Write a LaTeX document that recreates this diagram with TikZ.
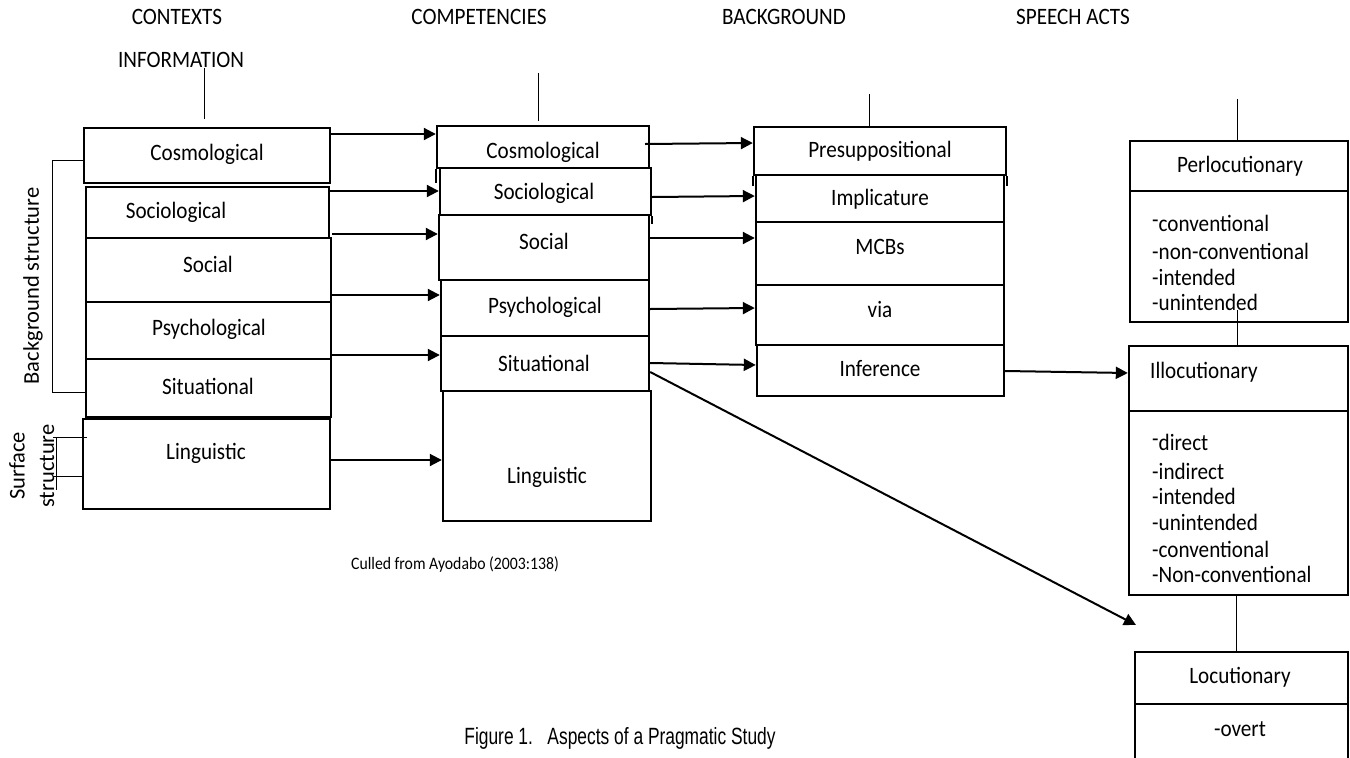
\documentclass[tikz,border=0pt]{standalone}
\usepackage{fontspec}
\setmainfont{Carlito}[FakeStretch=0.9]
\newfontfamily\rotfont{Carlito}
\newfontfamily\capfont{Liberation Sans}[FakeStretch=0.74]
\usetikzlibrary{arrows.meta,fit}
\tikzset{
  box/.style={draw, line width=2.4pt, inner sep=0pt},
  lbl/.style={font=\fontsize{23.5}{26}\selectfont, inner sep=0pt},
  item/.style={lbl, anchor=base west},
  rotlbl/.style={font=\rotfont\fontsize{22.5}{26}\selectfont, inner sep=0pt, rotate=90},
  arr/.style={line width=2pt, -{Triangle[length=12pt,width=12pt]}},
  thinline/.style={line width=1pt},
}
\newcommand\rdash{\raisebox{3.5pt}{-}}
\begin{document}
\begin{tikzpicture}[x=1pt,y=-1pt]
\useasboundingbox (0,0) rectangle (1350,758);
\clip (0,0) rectangle (1350,758);
\fill[white] (0,0) rectangle (1350,758);

% headers
\node[lbl] (hcon) at (177,17) {CONTEXTS};
\node[lbl] (hinf) at (181,60) {INFORMATION};
\node[lbl] (hcomp) at (479,17) {COMPETENCIES};
\node[lbl] (hback) at (784,17) {BACKGROUND};
\node[lbl] (hspe) at (1073,17) {SPEECH ACTS};

% column 1
\node[box, fit={(84,128) (330,183)}] (a1) {};
\node[box, fit={(86,187) (329,238)}] (a2) {};
\node[box, fit={(86,238) (331,302)}] (a3) {};
\node[box, fit={(86,302) (331,359)}] (a4) {};
\node[box, fit={(86,359) (331,417)}] (a5) {};
\node[box, fit={(83,419) (330,509)}] (a6) {};
\node[lbl] (ta1) at (207,154) {Cosmological};
\node[lbl] (ta2) at (176,212) {Sociological};
\node[lbl] (ta3) at (208,264) {Social};
\node[lbl] (ta4) at (209,329) {Psychological};
\node[lbl] (ta5) at (208,386) {Situational};
\node[lbl] (ta6) at (206,453) {Linguistic};

% column 2
\node[box, fit={(437,126) (649,168)}] (b1) {};
\node[box, fit={(440,168) (651,215)}] (b2) {};
\node[box, fit={(439,215) (649,280)}] (b3) {};
\node[box, fit={(441,280) (649,336)}] (b4) {};
\node[box, fit={(441,336) (649,391)}] (b5) {};
\node[box, fit={(443,391) (651,521)}] (b6) {};
\draw[line width=2.4pt] (b1.south west) -- ++(0,14);
\draw[line width=2.4pt] (b2.south east) -- ++(0,8);
\node[lbl] (tb1) at (543,152) {Cosmological};
\node[lbl] (tb2) at (544,193) {Sociological};
\node[lbl] (tb3) at (544,241) {Social};
\node[lbl] (tb4) at (545,307) {Psychological};
\node[lbl] (tb5) at (544,363) {Situational};
\node[lbl] (tb6) at (547,477) {Linguistic};

% column 3
\node[box, fit={(754,127) (1006,175)}] (c1) {};
\node[box, fit={(756,175) (1004,222)}] (c2) {};
\node[box, fit={(756,222) (1004,285)}] (c3) {};
\node[box, fit={(756,285) (1004,345)}] (c4) {};
\node[box, fit={(757,345) (1004,396)}] (c5) {};
\draw[line width=2.4pt] (c1.south west) -- ++(0,10);
\draw[line width=2.4pt] (c1.south east) -- ++(0,10);
\node[lbl] (tc1) at (880,151) {Presuppositional};
\node[lbl] (tc2) at (880,199) {Implicature};
\node[lbl] (tc3) at (880,247) {MCBs};
\node[lbl] (tc4) at (880,309) {via};
\node[lbl] (tc5) at (880,369) {Inference};

% column 4
\node[box, fit={(1130,141) (1348,191)}] (perl) {};
\node[box, fit={(1130,191) (1348,322)}] (perll) {};
\node[lbl] (tperl) at (1240,166) {Perlocutionary};
\node[item] (p1) at (1152,231) {\rdash conventional};
\node[item] (p2) at (1152,259) {-non-conventional};
\node[item] (p3) at (1152,285) {-intended};
\node[item] (p4) at (1152,310) {-unintended};

\node[box, fit={(1129,346) (1348,411)}] (ill) {};
\node[box, fit={(1129,411) (1348,595)}] (illl) {};
\node[lbl, anchor=west] (till) at (1150,372) {Illocutionary};
\node[item] (i1) at (1152,450) {\rdash direct};
\node[item] (i2) at (1152,479) {-indirect};
\node[item] (i3) at (1152,504) {-intended};
\node[item] (i4) at (1152,530) {-unintended};
\node[item] (i5) at (1152,557) {-conventional};
\node[item] (i6) at (1152,582) {-Non-conventional};

\node[box, fit={(1135,652) (1348,704)}] (loc) {};
\node[box, fit={(1135,704) (1348,775)}] (locl) {};
\node[lbl] (tloc) at (1240,677) {Locutionary};
\node[lbl] (tlocl) at (1240,729) {-overt};

% thin vertical connectors at top
\coordinate (k0) at (204,68);
\coordinate (k1) at (204,119);
\draw[thinline] (k0) -- (k1);
\coordinate (k2a) at (538,73);
\coordinate (k2b) at (538,121);
\draw[thinline] (k2a) -- (k2b);
\coordinate (k3) at (869,94);
\draw[thinline] (k3) -- (c1.north -| k3);
\coordinate (k4) at (1237,99);
\draw[thinline] (k4) -- (perl.north -| k4);
\coordinate (k5) at (1237,310);
\draw[thinline] (k5) -- (ill.north -| k5);
\draw[thinline] (illl.south -| 1236,0) -- (loc.north -| 1236,0);

% brackets left
\coordinate (bs1) at (52,160);
\coordinate (bs2) at (52,392);
\draw[thinline] (a1.west |- bs1) -- (bs1) -- (bs2) -- (a5.west |- bs2);
\node[rotlbl] (bstr) at (33,286) {Background structure};
\coordinate (ss1) at (53,437);
\coordinate (ss2) at (53,476);
\coordinate (ss3) at (56,438);
\coordinate (ss4) at (56,490);
\draw[thinline] (ss1) -- (87,437);
\draw[thinline] (ss2) -- (a6.west |- ss2);
\draw[thinline] (ss3) -- (ss4);
\node[rotlbl] (sur1) at (17,466) {Surface};
\node[rotlbl] (sur2) at (47,466) {structure};

% arrows col1 -> col2
\draw[arr] (a1.east |- 0,134) -- (b1.west |- 0,134);
\draw[arr] (a2.east |- 0,191) -- (b2.west |- 0,191);
\draw[arr] (a3.east |- 0,234) -- (b3.west |- 0,234);
\draw[arr] (a3.east |- 0,295) -- (b4.west |- 0,295);
\draw[arr] (a4.east |- 0,355) -- (b5.west |- 0,355);
\draw[arr] (a6.east |- 0,460) -- (b6.west |- 0,460);

% arrows col2 -> col3
\draw[arr] (645,144) -- (c1.west |- 0,143);
\draw[arr] (b2.east |- 0,197) -- (c2.west |- 0,196);
\draw[arr] (b3.east |- 0,238) -- (c3.west |- 0,238);
\draw[arr] (b4.east |- 0,309) -- (c4.west |- 0,308);
\draw[arr] (b5.east |- 0,363) -- (c5.west |- 0,365);
\coordinate (diagend) at (1136,625);
\draw[arr] (b5.east |- 0,372) -- (diagend);

% col3 -> illocutionary
\draw[arr] (c5.east |- 0,371) -- (ill.west |- 0,373);

% captions
\node[lbl, font=\fontsize{17.5}{20}\selectfont] (cull) at (455,565) {Culled from Ayodabo (2003:138)};
\node[inner sep=0pt, font=\capfont\fontsize{23.5}{26}\selectfont] (fig) at (620,738) {Figure 1.\ \ \ Aspects of a Pragmatic Study};
\end{tikzpicture}
\end{document}
